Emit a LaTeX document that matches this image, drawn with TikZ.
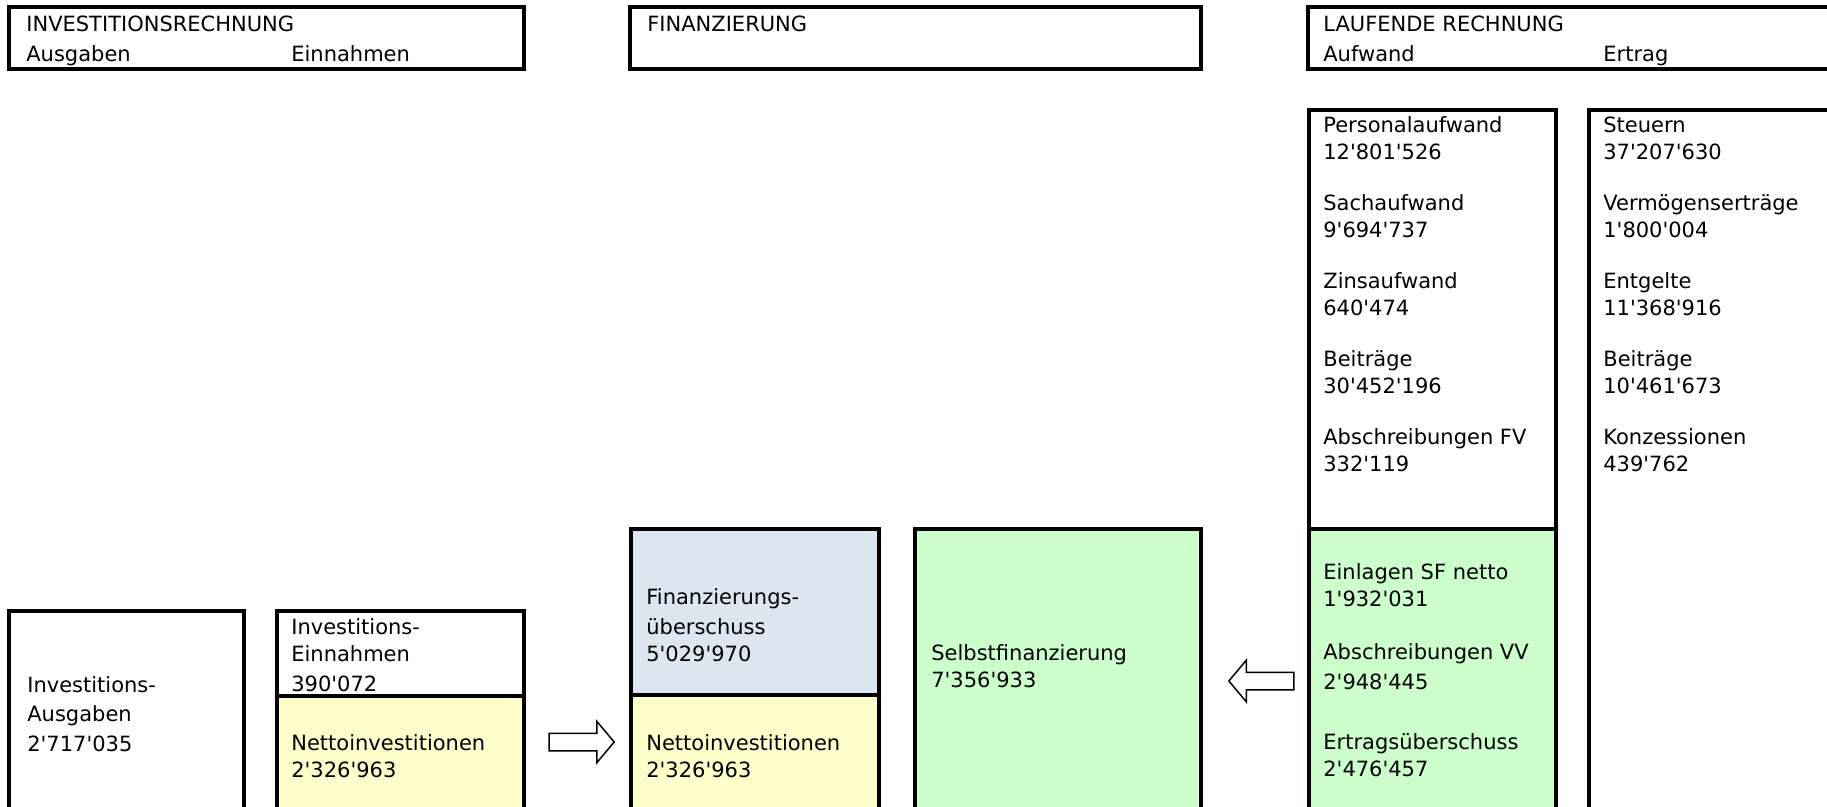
\documentclass[tikz,border=0pt]{standalone}
\usepackage{fontspec}
\setmainfont{DejaVu Sans}
\usetikzlibrary{shapes.arrows}
\definecolor{gruen}{HTML}{CCFFCC}
\definecolor{gelb}{HTML}{FFFFCC}
\definecolor{blau}{HTML}{DCE6F1}
\newcommand{\ap}{\textquotesingle}
% box: name, left, top, right, bottom, fill
\newcommand{\feld}[6]{%
 \node[feld,fill=#6,minimum width={(#4-#2)*0.2mm},minimum height={(#5-#3)*0.2mm}] (#1) at ({(#2+#4)/2},{(#3+#5)/2}) {};%
}
\tikzset{
 feld/.style={draw,line width=0.8mm,inner sep=0,outer sep=0},
 txt/.style={anchor=north west,inner sep=0,yshift=1.7mm,align=left,
  font=\fontsize{11.95pt}{15.4pt}\selectfont},
 pfeil/.style={single arrow,draw,line width=0.3mm,fill=white,inner sep=1.6mm,
  minimum height=13mm,minimum width=8mm,single arrow head extend=2.4mm,
  single arrow tip angle=100}
}
\begin{document}
\begin{tikzpicture}[x=0.2mm,y=-0.2mm]
 \useasboundingbox (0,0) rectangle (1827,806);
 \clip (0,0) rectangle (1827,806);
 % Kopfzeilen
 \feld{ir}{9}{7}{524}{69}{white}
 \feld{fi}{630}{7}{1201}{69}{white}
 \feld{lr}{1308}{7}{1900}{69}{white}
 \node[txt] (irt) at (26,24) {INVESTITIONSRECHNUNG};
 \node[txt] (ira) at (26,54) {Ausgaben};
 \node[txt] (ire) at (291,54) {Einnahmen};
 \node[txt] (fit) at (647,24) {FINANZIERUNG};
 \node[txt] (lrt) at (1323,24) {LAUFENDE RECHNUNG};
 \node[txt] (lra) at (1323,54) {Aufwand};
 \node[txt] (lre) at (1603,54) {Ertrag};
 % Investitionsrechnung
 \feld{ia}{9}{611}{244}{830}{white}
 \feld{ie}{277}{611}{524}{696}{white}
 \feld{ni}{277}{696}{524}{830}{gelb}
 \node[txt] (iat) at (27,685) {Investitions-\\[1pt]Ausgaben\\[1.5pt]2\ap717\ap035};
 \node[txt] (iet) at (291,627) {Investitions-\\Einnahmen\\[1.7pt]390\ap072};
 \node[txt] (nit) at (291,743) {Nettoinvestitionen\\2\ap326\ap963};
 \node[pfeil] (pr) at (578,742) {};
 % Finanzierung
 \feld{fu}{631}{529}{879}{695}{blau}
 \feld{nf}{631}{695}{879}{830}{gelb}
 \feld{sf}{915}{529}{1201}{830}{gruen}
 \node[txt] (fut) at (646,597) {Finanzierungs-\\[1.7pt]überschuss\\5\ap029\ap970};
 \node[txt] (nft) at (646,743) {Nettoinvestitionen\\2\ap326\ap963};
 \node[txt] (sft) at (931,653) {Selbstfinanzierung\\7\ap356\ap933};
 \node[pfeil,shape border rotate=180] (pl) at (1265,681) {};
 % Laufende Rechnung
 \feld{aw}{1309}{110}{1556}{529}{white}
 \feld{sa}{1309}{529}{1556}{830}{gruen}
 \feld{et}{1589}{110}{1900}{830}{white}
 \node[txt] (a1) at (1323,125) {Personalaufwand\\12\ap801\ap526};
 \node[txt] (a2) at (1323,203) {Sachaufwand\\9\ap694\ap737};
 \node[txt] (a3) at (1323,281) {Zinsaufwand\\640\ap474};
 \node[txt] (a4) at (1323,359) {Beiträge\\30\ap452\ap196};
 \node[txt] (a5) at (1323,437) {Abschreibungen FV\\332\ap119};
 \node[txt] (s1) at (1323,572) {Einlagen SF netto\\1\ap932\ap031};
 \node[txt] (s2) at (1323,652) {Abschreibungen VV\\[1.7pt]2\ap948\ap445};
 \node[txt] (s3) at (1323,742) {Ertragsüberschuss\\2\ap476\ap457};
 \node[txt] (e1) at (1603,125) {Steuern\\37\ap207\ap630};
 \node[txt] (e2) at (1603,203) {Vermögenserträge\\1\ap800\ap004};
 \node[txt] (e3) at (1603,281) {Entgelte\\11\ap368\ap916};
 \node[txt] (e4) at (1603,359) {Beiträge\\10\ap461\ap673};
 \node[txt] (e5) at (1603,437) {Konzessionen\\439\ap762};
\end{tikzpicture}
\end{document}
